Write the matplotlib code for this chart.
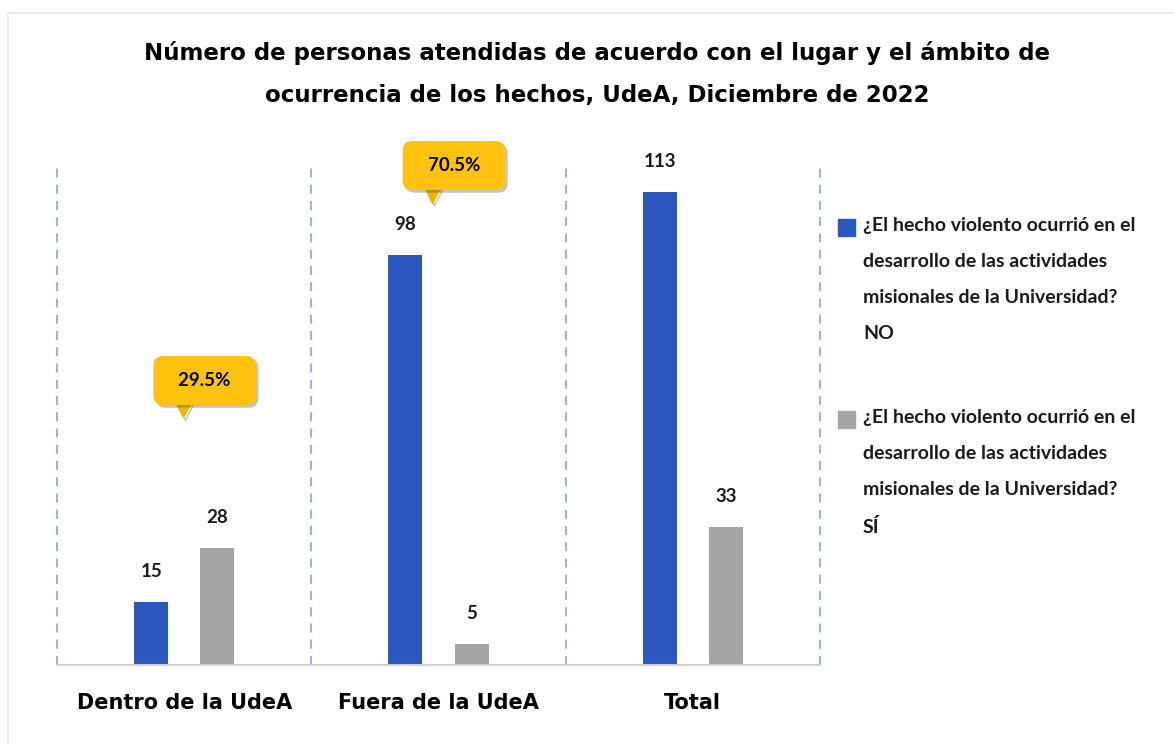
import numpy as np
import matplotlib.pyplot as plt
from matplotlib.lines import Line2D
from matplotlib.patches import Rectangle
import matplotlib.patheffects as pe

categories = ["Dentro de la UdeA", "Fuera de la UdeA", "Total"]
no_values = [15, 98, 113]
si_values = [28, 5, 33]
callout_text = ["29.5%", "70.5%"]
legend_labels = [
    "¿El hecho violento ocurrió en el\ndesarrollo de las actividades\nmisionales de la Universidad?\nNO",
    "¿El hecho violento ocurrió en el\ndesarrollo de las actividades\nmisionales de la Universidad?\nSÍ",
]
title = ("Número de personas atendidas de acuerdo con el lugar y el ámbito de\n"
         "ocurrencia de los hechos, UdeA, Diciembre de 2022")

blue = "#2B57BE"
gray = "#A5A5A5"
yellow = "#FFC20E"

W, H = 1174, 744
fig = plt.figure(figsize=(W / 100, H / 100), dpi=100)
fig.patch.set_facecolor("white")

# faint outer frame (only top and left visible)
fig.add_artist(Line2D([8 / W, 1], [1 - 13 / H, 1 - 13 / H], color="#EBEBEB", lw=1.5))
fig.add_artist(Line2D([8 / W, 8 / W], [0, 1 - 13 / H], color="#EBEBEB", lw=1.5))

ax = fig.add_axes([57 / W, 79 / H, 763 / W, 502 / H])
x = np.arange(len(categories))
bw = 0.134
off = 0.13
b1 = ax.bar(x - off, no_values, bw, color=blue)
b2 = ax.bar(x + off, si_values, bw, color=gray)

for bars, vals in [(b1, no_values), (b2, si_values)]:
    for b, v in zip(bars, vals):
        ax.annotate(str(v), (b.get_x() + b.get_width() / 2, v), xytext=(0, 22),
                    textcoords="offset points", ha="center", va="center",
                    fontsize=13.5, fontweight="bold", family="Lato", color="#1a1a1a")

ax.set_xlim(-0.5, 2.5)
ax.set_ylim(0, 120)
for xv in [-0.5, 0.5, 1.5, 2.5]:
    ax.axvline(xv, color="#8FADE6", lw=1.3, ls=(0, (5, 4)), zorder=0, clip_on=False)
for s in ["top", "right", "left"]:
    ax.spines[s].set_visible(False)
ax.spines["bottom"].set_color("#D0D0D0")
ax.spines["bottom"].set_linewidth(1.5)
ax.set_yticks([])
ax.set_xticks(x)
ax.set_xticklabels(categories, fontsize=15, fontweight="bold", family="DejaVu Sans")
ax.tick_params(axis="x", length=0, pad=20)

# callouts
callout_pos = [(0.08, 68), (1.06, 119.4)]
pointer_pos = [(-0.005, 61.0), (0.975, 112.3)]
for txt, (cx, cy), (px, py) in zip(callout_text, callout_pos, pointer_pos):
    ax.plot(px, py, marker="v", ms=11, color="#EDB600", clip_on=False, zorder=4,
            path_effects=[pe.SimpleLineShadow(offset=(1.5, -1.5), alpha=0.25), pe.Normal()])
    t = ax.text(cx, cy, "  " + txt + "  ", ha="center", va="center", fontsize=13.5,
                fontweight="bold", family="Lato", color="black", zorder=5, clip_on=False,
                bbox=dict(boxstyle="round,pad=0.85,rounding_size=0.5", fc=yellow, ec="none"))
    t.get_bbox_patch().set_path_effects([pe.SimplePatchShadow(offset=(2, -2), alpha=0.3), pe.Normal()])

fig.text(597 / W, 1 - 74 / H, title, ha="center", va="center", fontsize=16.5,
         fontweight="bold", family="DejaVu Sans", linespacing=2.05)

# legend drawn by hand
for i, (lab, col) in enumerate(zip(legend_labels, [blue, gray])):
    ytop = 1 - (219 + i * 192) / H
    fig.add_artist(Rectangle((838 / W, ytop - 17 / H), 17 / W, 17 / H,
                             transform=fig.transFigure, color=col))
    fig.text(863 / W, ytop + 2 / H, lab, ha="left", va="top", fontsize=14,
             fontweight="bold", family="Lato", color="#1a1a1a", linespacing=2.35)

fig.savefig("out.png", dpi=100)
